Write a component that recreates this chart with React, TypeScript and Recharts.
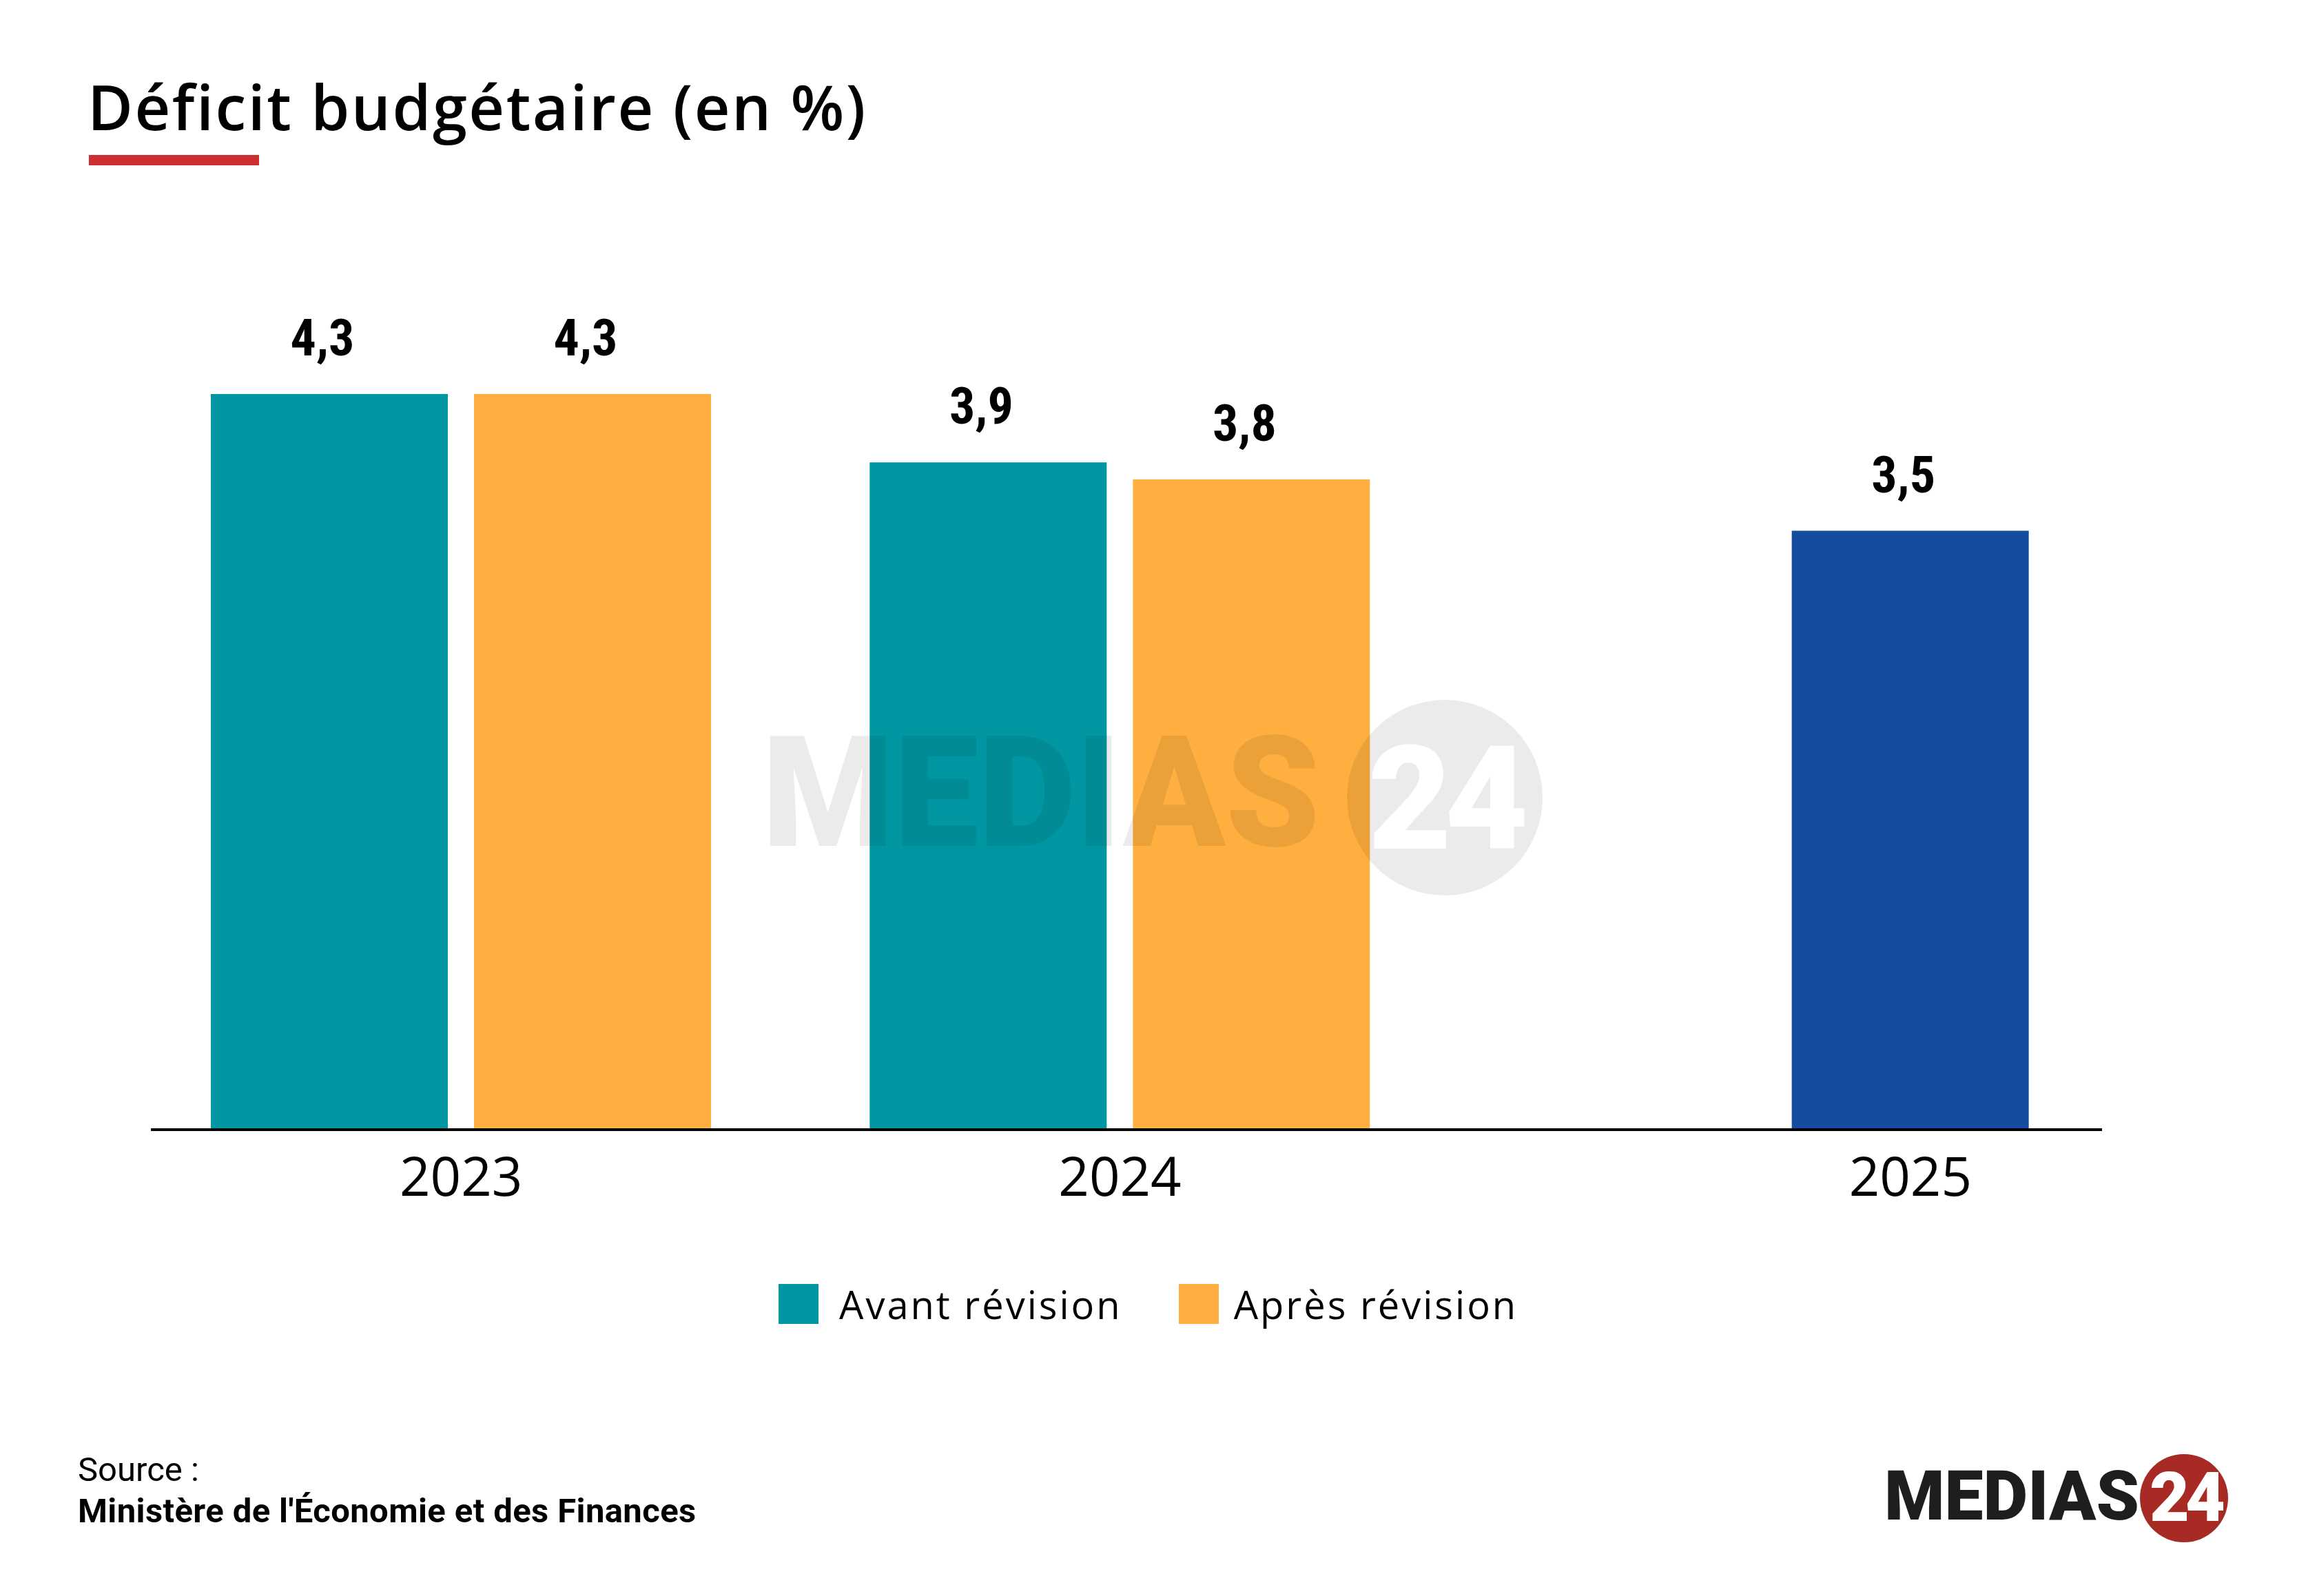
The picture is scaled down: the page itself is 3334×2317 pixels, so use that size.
import React from 'react';
import { BarChart, Bar, XAxis, YAxis, LabelList, Cell } from 'recharts';

const categories = ['2023', '2024', '2025'];
const avantRevision: (number | null)[] = [4.3, 3.9, null];
const apresRevision: (number | null)[] = [4.3, 3.8, 3.5];
const legendLabels = ['Avant révision', 'Après révision'];
const title = 'Déficit budgétaire (en %)';
const sourceLabel = 'Source :';
const sourceName = "Ministère de l'Économie et des Finances";

const TEAL = '#0097A2';
const ORANGE = '#FFAF3F';
const BLUE = '#164C9F';
const RED = '#CD2E32';

const W = 3334;
const H = 2317;
const BAR_SIZE = 344;
const BAR_GAP = 38;

const data = categories.map((c, i) => ({ year: c, avant: avantRevision[i], apres: apresRevision[i] }));

const fmt = (v: any) => (v == null ? '' : String(v).replace('.', ','));

const labelFont = "'Roboto Condensed', 'Liberation Sans Narrow', 'DejaVu Sans Condensed', Roboto, sans-serif";
const mainFont = "'Open Sans', Roboto, sans-serif";

const YearTick = (props: any) => {
  const { x, y, payload, index } = props;
  const shift = avantRevision[index] == null ? (BAR_SIZE + BAR_GAP) / 2 : 0;
  return (
    <text x={x + shift} y={y + 96} textAnchor="middle" fontFamily={mainFont} fontSize={78} fontWeight={500} fill="#000">
      {payload.value}
    </text>
  );
};

const ValueLabel = (props: any) => {
  const { x, y, width, value } = props;
  if (value == null) return null;
  return (
    <text x={x + width / 2 - 10} y={y - 56} textAnchor="middle" fontFamily={labelFont} fontSize={74} fontWeight={700} fill="#000">
      {fmt(value)}
    </text>
  );
};

export default function App() {
  return (
    <div style={{ position: 'absolute', left: 0, top: 0, width: W, height: H, background: '#fff', overflow: 'hidden' }}>
      <div style={{ position: 'absolute', left: 0, top: 0 }}>
        <BarChart
          width={W}
          height={H}
          data={data}
          margin={{ top: 398, right: 283, bottom: 577, left: 219 }}
          barSize={BAR_SIZE}
          barGap={BAR_GAP}
        >
          <XAxis
            dataKey="year"
            height={100}
            tickLine={false}
            tickSize={0}
            tickMargin={0}
            padding={{ left: -28, right: -9 }}
            axisLine={{ stroke: '#000', strokeWidth: 4 }}
            tick={<YearTick />}
            interval={0}
          />
          <YAxis hide domain={[0, 5]} />
          <Bar dataKey="avant" fill={TEAL} isAnimationActive={false}>
            <LabelList dataKey="avant" content={<ValueLabel />} />
          </Bar>
          <Bar dataKey="apres" fill={ORANGE} isAnimationActive={false}>
            {data.map((d, i) => (
              <Cell key={i} fill={avantRevision[i] == null ? BLUE : ORANGE} />
            ))}
            <LabelList dataKey="apres" content={<ValueLabel />} />
          </Bar>
        </BarChart>
      </div>

      {/* watermark */}
      <svg width={W} height={H} style={{ position: 'absolute', left: 0, top: 0, pointerEvents: 'none' }}>
        <defs>
          <mask id="wm24">
            <rect x={0} y={0} width={W} height={H} fill="white" />
            <text x={2097} y={1232} textAnchor="middle" fontFamily="Roboto, sans-serif" fontWeight={900} fontSize={210} fill="black" letterSpacing={-10}>24</text>
          </mask>
        </defs>
        <text x={1106} y={1228} fontFamily="Roboto, sans-serif" fontWeight={900} fontSize={224} fill="rgba(0,0,0,0.08)" textLength={810} lengthAdjust="spacingAndGlyphs">MEDIAS</text>
        <circle cx={2097} cy={1158} r={142} fill="rgba(0,0,0,0.08)" mask="url(#wm24)" />
      </svg>

      {/* title */}
      <div style={{ position: 'absolute', left: 127, top: 98, fontFamily: mainFont, fontWeight: 600, fontSize: 90, letterSpacing: 2.5, lineHeight: '112px', color: '#000', whiteSpace: 'nowrap' }}>
        {title}
      </div>
      <div style={{ position: 'absolute', left: 129, top: 225, width: 247, height: 15, background: RED }} />

      {/* legend */}
      <div style={{ position: 'absolute', left: 1130, top: 1864, display: 'flex', alignItems: 'center', fontFamily: mainFont, fontSize: 56, fontWeight: 500, letterSpacing: 3, color: '#000', whiteSpace: 'nowrap' }}>
        <div style={{ width: 58, height: 58, background: TEAL }} />
        <span style={{ marginLeft: 30, lineHeight: '58px' }}>{legendLabels[0]}</span>
        <div style={{ width: 58, height: 58, background: ORANGE, marginLeft: 82 }} />
        <span style={{ marginLeft: 22, lineHeight: '58px' }}>{legendLabels[1]}</span>
      </div>

      {/* source */}
      <div style={{ position: 'absolute', left: 113, top: 2104, fontFamily: 'Roboto, sans-serif', color: '#000', whiteSpace: 'nowrap' }}>
        <div style={{ fontSize: 49, lineHeight: '60px', fontWeight: 400 }}>{sourceLabel}</div>
        <div style={{ fontSize: 49, lineHeight: '60px', fontWeight: 700, letterSpacing: 0.4 }}>{sourceName}</div>
      </div>

      {/* logo */}
      <svg width={560} height={200} style={{ position: 'absolute', left: 2700, top: 2080 }}>
        <circle cx={470} cy={95} r={64} fill="#A82A24" />
        <text x={35} y={126} fontFamily="Roboto, sans-serif" fontWeight={900} fontSize={100} fill="#1E1E20" textLength={370} lengthAdjust="spacingAndGlyphs">MEDIAS</text>
        <text x={472} y={128} textAnchor="middle" fontFamily="Roboto, sans-serif" fontWeight={900} fontSize={100} fill="#fff" letterSpacing={-6}>24</text>
      </svg>
    </div>
  );
}
